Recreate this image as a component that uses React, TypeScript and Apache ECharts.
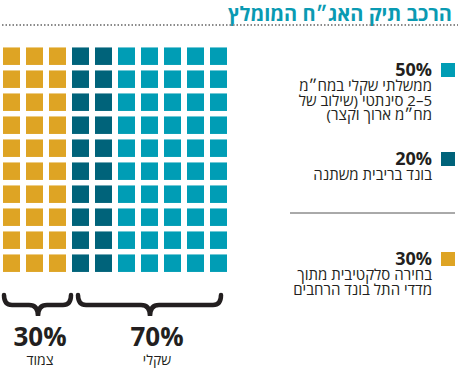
import React, { useEffect, useRef } from "react";
import * as echarts from "echarts";

// ---- data ----
const title = "הרכב תיק האג״ח המומלץ";
const segmentValues = [30, 20, 50]; // left-to-right columns in the waffle
const segmentColors = ["#dea424", "#00637a", "#009db5"];
const legendOrder = [2, 1, 0];
const legendPercents = ["50%", "20%", "30%"];
const legendLines = [
  ["ממשלתי שקלי במח״מ", "\u20662–5\u2069 סינתטי (שילוב של", "מח״מ ארוך וקצר)"],
  ["בונד בריבית משתנה"],
  ["בחירה סלקטיבית מתוך", "מדדי התל בונד הרחבים"],
];
const groupValues = ["30%", "70%"];
const groupLabels = ["צמוד", "שקלי"];
const gridRows = 10;
const gridCols = 10;

const FONT = "'Open Sans', 'Liberation Sans', 'DejaVu Sans', sans-serif";
const INK = "#231f20";
const rtl = (s: string) => "\u202B" + s + "\u202C";

function bracePath(x1: number, x2: number, cx: number, y0: number, ym: number, yb: number) {
  return `M${x1} ${y0} Q${x1} ${ym} ${x1 + 8} ${ym} L${cx - 9} ${ym} Q${cx} ${ym} ${cx} ${yb} Q${cx} ${ym} ${cx + 9} ${ym} L${x2 - 8} ${ym} Q${x2} ${ym} ${x2} ${y0}`;
}

echarts.graphic.registerShape("braceA", echarts.graphic.extendPath(bracePath(4, 71, 38, 295, 305, 316), {}) as any);
echarts.graphic.registerShape("braceB", echarts.graphic.extendPath(bracePath(78, 221, 150, 295, 305, 316), {}) as any);

export default function App() {
  const ref = useRef<HTMLDivElement>(null);
  useEffect(() => {
    if (!ref.current) return;
    const chart = echarts.init(ref.current, undefined, { renderer: "svg" });

    const series: any[] = [];
    let col = 0;
    segmentValues.forEach((v, i) => {
      const ncols = v / gridRows;
      const data: number[][] = [];
      for (let c = 0; c < ncols; c++) {
        for (let r = 0; r < gridRows; r++) data.push([col + c, r]);
      }
      col += ncols;
      series.push({
        type: "scatter",
        symbol: "rect",
        symbolSize: [17, 17.5],
        data,
        itemStyle: { color: segmentColors[i], opacity: 1 },
        silent: true,
      });
    });

    const graphics: any[] = [
      {
        type: "text",
        x: 452,
        y: 13,
        style: { text: rtl(title), fill: "#0a9ab2", font: `bold 20px ${FONT}`, align: "right", verticalAlign: "middle" },
      },
      {
        type: "line",
        shape: { x1: 2, y1: 25, x2: 458, y2: 25 },
        style: { stroke: "#8a8a8a", lineWidth: 2, lineDash: [1.5, 2] },
      },
    ];

    const legendY = [69, 158, 258];
    legendOrder.forEach((seg, k) => {
      const y = legendY[k];
      graphics.push({
        type: "rect",
        shape: { x: 441, y: y - 6, width: 14, height: 14 },
        style: { fill: segmentColors[seg] },
      });
      graphics.push({
        type: "text",
        x: 432,
        y: y,
        style: { text: legendPercents[k], fill: INK, font: `bold 18px ${FONT}`, align: "right", verticalAlign: "middle" },
      });
      graphics.push({
        type: "text",
        x: 432,
        y: y + 9,
        style: {
          text: legendLines[k].map(rtl).join("\n"),
          fill: INK,
          font: `15px ${FONT}`,
          align: "right",
          verticalAlign: "top",
          lineHeight: 14.5,
        },
      });
    });
    graphics.push({
      type: "line",
      shape: { x1: 290, y1: 213, x2: 455, y2: 213 },
      style: { stroke: "#555", lineWidth: 1 },
    });

    graphics.push({ type: "braceA", style: { stroke: INK, lineWidth: 4.5, fill: "none", lineCap: "round" } });
    graphics.push({ type: "braceB", style: { stroke: INK, lineWidth: 4.5, fill: "none", lineCap: "round" } });
    const groupX = [40, 157];
    groupValues.forEach((g, i) => {
      graphics.push({
        type: "text",
        x: groupX[i],
        y: 336,
        style: { text: g, fill: INK, font: `bold 26px ${FONT}`, align: "center", verticalAlign: "middle" },
      });
      graphics.push({
        type: "text",
        x: groupX[i],
        y: 359,
        style: { text: rtl(groupLabels[i]), fill: INK, font: `14px ${FONT}`, align: "center", verticalAlign: "middle" },
      });
    });

    chart.setOption({
      animation: false,
      grid: { left: 0, top: 44.7, width: 230, height: 230, containLabel: false },
      xAxis: { type: "value", min: -0.5, max: gridCols - 0.5, show: false },
      yAxis: { type: "value", min: -0.5, max: gridRows - 0.5, inverse: true, show: false },
      series,
      graphic: graphics,
    });
    return () => chart.dispose();
  }, []);
  return <div ref={ref} style={{ position: "absolute", left: 0, top: 0, width: 458, height: 368, background: "#fff" }} />;
}
